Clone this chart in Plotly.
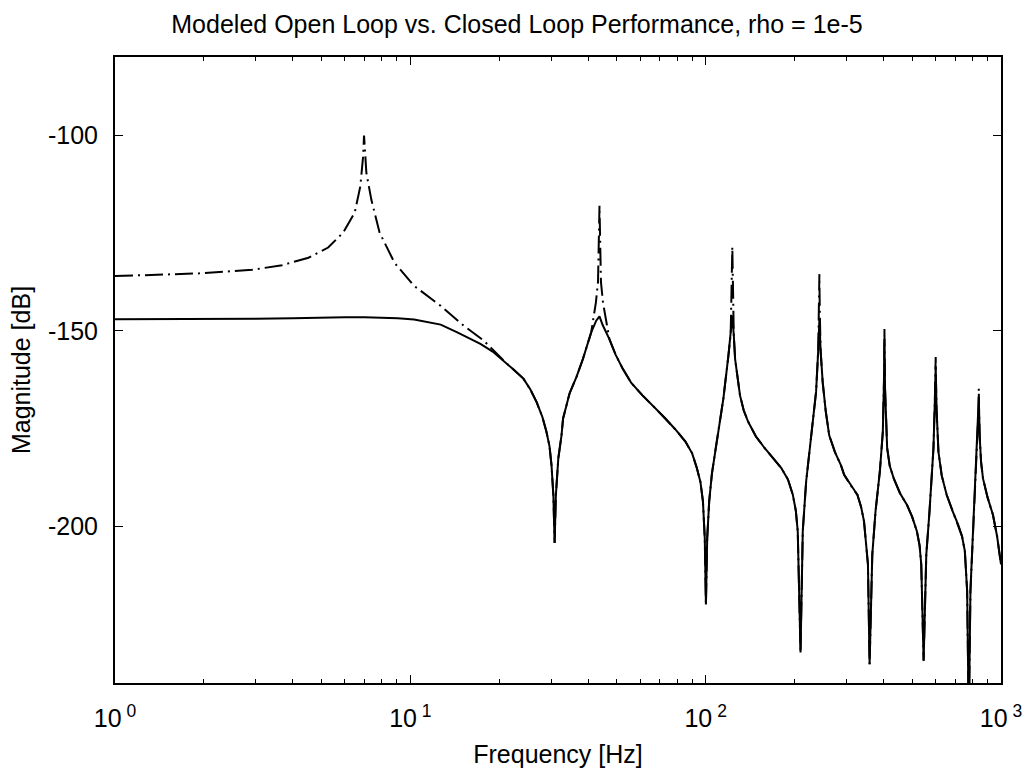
import plotly.graph_objects as go

# ---- data ----
# Closed loop (solid)
closed_freq = [1.0, 1.5, 2.0, 3.0, 4.0, 5.0, 6.0, 7.0, 8.0, 9.06, 10.3, 11.73, 12.67, 14.42,
               15.8, 17.27, 19.0, 20.7, 22.3, 24.15, 25.5, 26.77, 28.0, 28.9, 29.6, 30.06,
               30.5, 30.8, 31.1, 31.7, 32.5, 32.9, 34.6, 36.5, 38.4, 40.96, 42.6, 43.7,
               44.8, 47.2, 49.5, 52.4, 56.0, 61.1, 67.0, 73.1, 79.0, 85.4, 90.0, 93.4,
               96.0, 97.9, 99.3, 100.2, 101.2, 102.8, 105.0, 107.7, 111.0, 114.8, 119.4,
               121.5, 123.1, 124.5, 125.8, 130.7, 134.5, 139.4, 148.0, 158.5, 170.0, 180.4,
               190.0, 197.3, 202.0, 205.0, 209.5, 213.2, 218.9, 227.5, 236.5, 240.5, 242.7,
               245.0, 249.0, 255.0, 262.0, 274.0, 287.0, 294.4, 310.0, 326.4, 336.0, 343.7,
               354.4, 359.0, 366.6, 375.9, 388.8, 398.0, 401.5, 403.0, 405.0, 411.7, 420.0,
               433.3, 455.0, 480.6, 500.0, 519.0, 530.0, 537.0, 547.0, 558.5, 572.6, 582.0,
               590.6, 597.0, 601.0, 605.0, 614.0, 630.0, 654.6, 685.0, 716.5, 738.0, 754.4,
               768.0, 778.0, 788.0, 804.6, 825.3, 835.0, 841.0, 847.0, 856.0, 869.0, 900.0,
               939.0, 970.0, 1000.0]
closed_db = [-147.0, -147.0, -147.0, -146.9, -146.8, -146.6, -146.5, -146.5, -146.6,
             -146.8, -147.1, -147.8, -148.4, -150.4, -151.8, -153.3, -155.3, -157.6,
             -159.8, -162.2, -165.0, -168.2, -172.0, -175.8, -179.5, -184.3, -192.0,
             -204.2, -192.0, -182.6, -176.7, -172.4, -166.0, -161.8, -157.2, -150.4,
             -147.4, -146.3, -148.5, -152.1, -156.0, -159.7, -163.3, -166.5, -169.5,
             -172.4, -175.2, -178.3, -181.3, -185.1, -188.6, -193.6, -203.0, -219.9,
             -203.0, -193.5, -186.5, -180.9, -174.0, -167.3, -156.3, -151.0, -146.1,
             -151.0, -157.2, -166.5, -170.3, -173.3, -177.0, -180.0, -182.7, -185.1,
             -188.0, -191.9, -196.0, -201.2, -232.2, -201.2, -188.5, -176.7, -165.6,
             -155.0, -147.0, -155.0, -163.1, -170.5, -176.7, -181.0, -184.3, -186.8,
             -189.5, -191.9, -195.0, -198.7, -209.7, -235.2, -207.2, -196.2, -186.0,
             -175.8, -163.0, -152.0, -165.0, -180.0, -184.5, -187.7, -191.5, -194.5,
             -197.5, -201.2, -204.8, -209.7, -234.3, -207.2, -196.2, -188.0, -180.0,
             -168.0, -159.0, -170.0, -180.9, -187.0, -191.9, -196.0, -199.6, -202.5,
             -206.3, -216.5, -250.0, -216.5, -201.2, -184.3, -175.0, -167.0, -177.0,
             -183.5, -187.7, -192.5, -197.0, -202.5, -209.7]

# Open loop (dash-dot): low-frequency part where it differs from closed loop
open_low_freq = [1.0, 1.245, 1.93, 2.91, 3.68, 4.52, 5.27, 5.92, 6.48, 6.77, 6.92,
                 6.97, 7.10, 7.38, 7.87, 8.84, 10.3, 12.67, 15.18, 17.73, 19.6]
open_low_db = [-136.0, -135.8, -135.3, -134.4, -133.2, -131.3, -128.7, -124.9, -119.8,
               -113.1, -105.4, -100.1, -109.7, -116.5, -124.9, -132.6, -138.5, -143.6,
               -148.7, -152.5, -155.9]
# Open loop sharp peaks that rise above the closed loop
open_peak_freq = [42.5, 43.2, 43.7, 44.2, 44.9,
                  122.3, 122.7, 123.1, 123.5, 123.9,
                  241.8, 242.3, 242.7, 243.1, 243.6,
                  402.3, 402.7, 403.0, 403.3, 403.7,
                  600.0, 600.5, 601.0, 601.5, 602.0,
                  839.5, 840.3, 841.0, 841.7, 842.5]
open_peak_db = [-142.7, -137.5, -118.0, -137.5, -142.7,
                -140.0, -135.0, -128.5, -135.0, -140.0,
                -146.0, -141.0, -135.5, -141.0, -146.0,
                -156.0, -153.0, -149.5, -153.0, -156.0,
                -162.0, -159.0, -156.7, -159.0, -162.0,
                -170.0, -167.0, -164.8, -167.0, -170.0]

x_tick_vals = [1, 10, 100, 1000]
x_tick_text = ["10<sup> 0</sup>", "10<sup> 1</sup>", "10<sup> 2</sup>", "10<sup> 3</sup>"]
y_tick_vals = [-100, -150, -200]
y_tick_text = ["-100", "-150", "-200"]

# ---- build open loop series from read values ----
peak_windows = [(min(open_peak_freq[i:i + 5]), max(open_peak_freq[i:i + 5]))
                for i in range(0, len(open_peak_freq), 5)]
pts = list(zip(open_low_freq, open_low_db)) + list(zip(open_peak_freq, open_peak_db))
for f, d in zip(closed_freq, closed_db):
    if f <= open_low_freq[-1]:
        continue
    if any(lo <= f <= hi for lo, hi in peak_windows):
        continue
    pts.append((f, d))
pts.sort()
open_freq = [p[0] for p in pts]
open_db = [p[1] for p in pts]

FONT = "Liberation Sans, Arial, Helvetica, sans-serif"

fig = go.Figure()
fig.add_trace(go.Scatter(x=open_freq, y=open_db, mode="lines",
                         line=dict(color="black", width=2, dash="18px,5px,2px,5px"),
                         showlegend=False))
fig.add_trace(go.Scatter(x=closed_freq, y=closed_db, mode="lines",
                         line=dict(color="black", width=2),
                         showlegend=False))

minor_vals = [m * 10 ** d for d in range(3) for m in range(2, 10)]

fig.update_layout(
    width=1034, height=776,
    margin=dict(l=115, r=26, t=57, b=90),
    paper_bgcolor="white", plot_bgcolor="white",
    font=dict(family=FONT, size=25, color="black"),
    title=dict(text="Modeled Open Loop vs. Closed Loop Performance, rho = 1e-5",
               x=0.5, xref="container", xanchor="center",
               y=1 - 24 / 776, yref="container", yanchor="middle",
               font=dict(family=FONT, size=25, color="black")),
    showlegend=False,
)
fig.update_xaxes(
    type="log", range=[0, 3],
    tickmode="array", tickvals=x_tick_vals, ticktext=x_tick_text,
    ticks="inside", ticklen=8, tickwidth=1, tickcolor="black",
    minor=dict(ticks="inside", ticklen=4, tickwidth=1, tickcolor="black",
               tickvals=minor_vals, showgrid=False),
    showline=True, linecolor="black", linewidth=2, mirror="ticks",
    showgrid=False, zeroline=False,
    tickfont=dict(family=FONT, size=25),
    ticklabelstandoff=12,
    title=dict(text="Frequency [Hz]", font=dict(family=FONT, size=25), standoff=14),
)
fig.update_yaxes(
    range=[-240, -80],
    tickmode="array", tickvals=y_tick_vals, ticktext=y_tick_text,
    ticks="inside", ticklen=8, tickwidth=1, tickcolor="black",
    showline=True, linecolor="black", linewidth=2, mirror="ticks",
    showgrid=False, zeroline=False,
    tickfont=dict(family=FONT, size=25),
    ticklabelstandoff=10,
    title=dict(text="Magnitude [dB]", font=dict(family=FONT, size=25), standoff=10),
)

fig.write_html("out.html")
